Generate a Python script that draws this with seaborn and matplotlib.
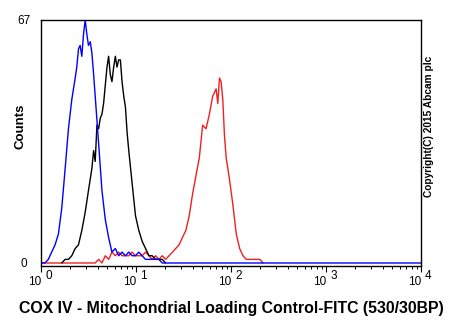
import matplotlib
matplotlib.use("Agg")
import matplotlib.pyplot as plt
import matplotlib.transforms as mtransforms
from matplotlib.ticker import LogLocator, NullFormatter, FixedLocator
import seaborn as sns
import pandas as pd

# ---- data (fluorescence intensity, counts) ----
blue_x = [1.00, 1.10, 1.195, 1.295, 1.406, 1.525, 1.652, 1.795, 1.945, 2.108, 2.29, 2.38,
          2.48, 2.58, 2.69, 2.80, 2.92, 3.04, 3.16, 3.30, 3.43, 3.58, 3.72, 4.04, 4.38,
          4.75, 5.15, 5.58, 6.06, 6.57, 7.13, 7.74, 8.39, 9.10, 9.88, 10.7, 11.6, 12.6,
          13.7, 14.8, 16.1, 17.4, 18.9, 10000]
blue_y = [0, 0, 1, 3, 5, 8, 15, 26, 37, 45, 51, 54,
          59, 60, 57, 63, 67, 63, 60, 61, 58, 52, 46, 33, 20,
          12, 7, 3, 4, 2, 3, 2, 3, 2, 2, 3, 2, 1,
          1, 1, 1, 1, 0, 0]

black_x = [1.652, 1.795, 1.945, 2.108, 2.29, 2.48, 2.69, 2.92, 3.16, 3.43, 3.58, 3.72,
           3.88, 4.04, 4.21, 4.38, 4.56, 4.75, 4.95, 5.15, 5.36, 5.58, 5.82, 6.06,
           6.31, 6.57, 6.85, 7.13, 7.43, 7.74, 8.06, 8.39, 9.10, 9.88, 10.7, 11.6,
           12.6, 13.7, 14.8, 16.1, 17.4, 18.9, 20.5]
black_y = [0, 1, 1, 2, 4, 5, 9, 14, 20, 26, 31, 28,
           38, 37, 40, 41, 44, 49, 54, 57, 52, 50, 54, 57,
           54, 56, 56, 50, 46, 43, 36, 31, 22, 13, 9, 6,
           4, 2, 2, 1, 1, 1, 0]

red_x = [1.00, 3.72, 4.04, 4.38, 4.75, 5.15, 5.58, 6.06, 6.57, 7.13, 7.74, 8.39, 9.10,
         9.88, 10.7, 11.6, 12.6, 13.7, 14.8, 16.1, 17.4, 18.9, 20.5, 22.3, 24.2, 26.2,
         28.4, 30.8, 33.5, 36.3, 39.4, 42.7, 46.4, 50.3, 54.6, 59.2, 64.2, 69.7, 72.6,
         75.6, 78.7, 82.0, 85.4, 89.0, 96.5, 104.7, 113.6, 123.3, 133.7, 145, 157, 171,
         185, 201, 218]
red_y = [0, 0, 1, 0, 2, 1, 3, 2, 3, 2, 2, 2, 3,
         2, 2, 2, 3, 2, 1, 2, 1, 2, 1, 2, 3, 4,
         5, 7, 9, 13, 19, 24, 29, 38, 37, 41, 46, 48, 44,
         51, 50, 45, 35, 29, 23, 16, 8, 4, 2, 1, 1, 1,
         1, 1, 0]

x_tick_values = [1, 10, 100, 1000, 10000]
x_tick_exponents = ["0", "1", "2", "3", "4"]
y_tick_values = [0, 67]
y_tick_labels = ["0", "67"]

x_label = "COX IV - Mitochondrial Loading Control-FITC (530/30BP)"
y_label = "Counts"
copyright_text = "Copyright(C) 2015 Abcam plc"

# ---- style ----
sns.set_style("white")
plt.rcParams["font.family"] = ["Liberation Sans", "DejaVu Sans"]
plt.rcParams["text.color"] = "black"
plt.rcParams["xtick.color"] = "black"
plt.rcParams["ytick.color"] = "black"
plt.rcParams["axes.labelcolor"] = "black"

fig = plt.figure(figsize=(4.5, 3.3), dpi=100)
ax = fig.add_axes([41 / 450, 1 - 266 / 330, 380 / 450, 246 / 330])

series = [
    (red_x, red_y, "#f02020"),
    (black_x, black_y, "#000000"),
    (blue_x, blue_y, "#0000ff"),
]
for xs, ys, col in series:
    df = pd.DataFrame({"x": xs, "y": ys})
    sns.lineplot(data=df, x="x", y="y", ax=ax, color=col, lw=1.0,
                 estimator=None)

ax.set_xscale("log")
ax.set_xlim(1, 10000)
ax.set_ylim(-0.83, 67)

for s in ax.spines.values():
    s.set_visible(True)
    s.set_color("black")
    s.set_linewidth(1.0)

ax.xaxis.set_major_locator(FixedLocator(x_tick_values))
ax.xaxis.set_minor_locator(LogLocator(base=10, subs=range(2, 10)))
ax.xaxis.set_minor_formatter(NullFormatter())
ax.set_xticklabels([""] * len(x_tick_values))
ax.tick_params(axis="x", which="major", direction="out", length=4.5, width=0.8,
               color="black", bottom=True)
ax.tick_params(axis="x", which="minor", direction="out", length=2.5, width=0.7,
               color="black", bottom=True)

ax.set_yticks(y_tick_values)
ax.set_yticklabels(y_tick_labels, fontsize=8.5, ha="center", color="black")
ax.tick_params(axis="y", length=0, pad=12.5)

trans = mtransforms.blended_transform_factory(ax.transData, ax.transAxes)
for v, e in zip(x_tick_values, x_tick_exponents):
    off_base = mtransforms.ScaledTranslation(0.5 / 72, -11.5 / 72, fig.dpi_scale_trans)
    ax.text(v, 0, "10", transform=trans + off_base, ha="right", va="center",
            fontsize=8.5, color="black")
    off_exp = mtransforms.ScaledTranslation(3.0 / 72, -7.0 / 72, fig.dpi_scale_trans)
    ax.text(v, 0, e, transform=trans + off_exp, ha="left", va="center",
            fontsize=8.5, color="black")

ax.set_xlabel("")
ax.set_ylabel("")
fig.text(231 / 450, 1 - 308 / 330, x_label, ha="center", va="center",
         fontsize=11.4, fontweight="bold", color="black")
fig.text(21 / 450, 1 - 126 / 330, y_label, ha="center", va="center",
         rotation=90, fontsize=9.5, fontweight="bold", color="black")
fig.text(429 / 450, 1 - 126 / 330, copyright_text, ha="center", va="center",
         rotation=90, fontsize=7.3, fontweight="bold", color="black")

fig.savefig("out.png", dpi=100)
